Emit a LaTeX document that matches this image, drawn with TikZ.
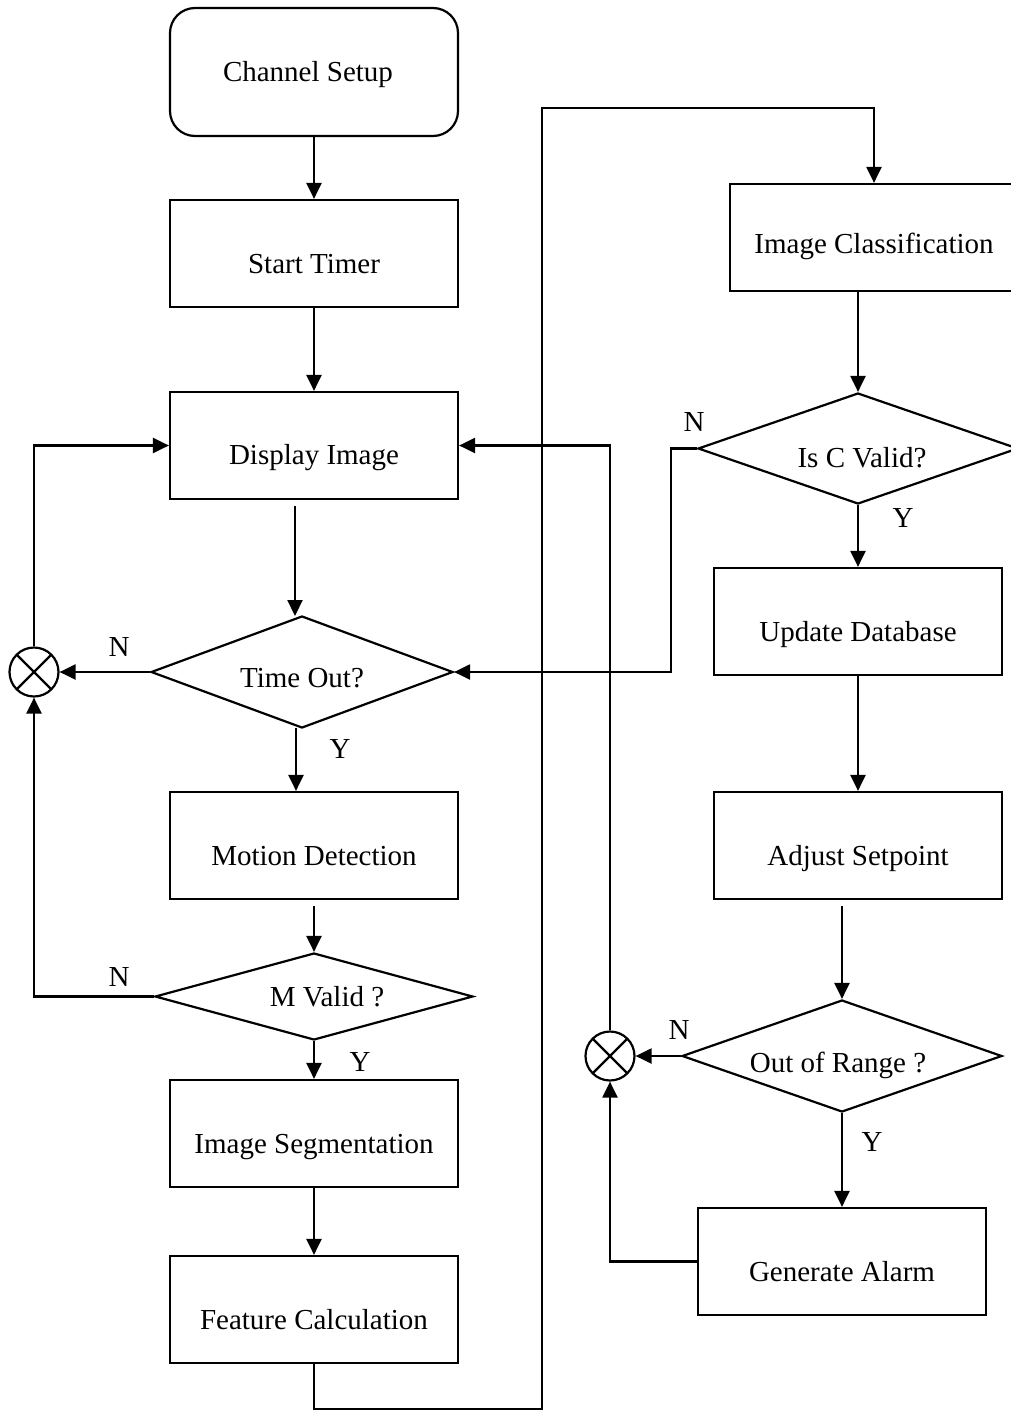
\documentclass[tikz,border=0pt]{standalone}
\usepackage{fontspec}
\setmainfont{Liberation Serif}
\usetikzlibrary{shapes.geometric,arrows.meta}
\begin{document}
\begin{tikzpicture}[x=1pt,y=-1pt,
  every node/.style={font=\fontsize{29}{34}\selectfont},
  lbl/.style={inner sep=0pt, text height=19.2pt, text depth=0pt},
  stepbox/.style={draw, line width=2.2pt, minimum width=288pt, minimum height=107pt, inner sep=0pt},
  startbox/.style={stepbox, minimum height=128pt, rounded corners=25pt},
  dia/.style={draw, diamond, line width=2.2pt, inner sep=0pt, aspect=1},
  joint/.style={draw, circle, line width=2.2pt, minimum size=49pt, inner sep=0pt,
    path picture={\draw[line width=2.2pt] (path picture bounding box.north west) -- (path picture bounding box.south east)
      (path picture bounding box.north east) -- (path picture bounding box.south west);}},
  conn/.style={line width=2.2pt},
  arr/.style={conn, -{Triangle[length=16pt,width=15pt]}}
]
\useasboundingbox (0,0) rectangle (1010,1411);

% left column
\node[startbox, label={[lbl,xshift=-6pt]center:Channel Setup}] (cs) at (314,72) {};
\node[stepbox, label={[lbl,yshift=-10pt]center:Start Timer}] (st) at (314,253.5) {};
\node[stepbox, label={[lbl,yshift=-9pt]center:Display Image}] (disp) at (314,445.5) {};
\node[dia, minimum width=302pt, minimum height=112pt, label={[lbl,yshift=-6pt]center:Time Out?}] (tout) at (302,672) {};
\node[stepbox, label={[lbl,yshift=-10pt]center:Motion Detection}] (md) at (314,845.5) {};
\node[dia, minimum width=318pt, minimum height=87pt, label={[lbl,xshift=13pt]center:M Valid ?}] (mv) at (314,996.5) {};
\node[stepbox, label={[lbl,yshift=-10pt]center:Image Segmentation}] (seg) at (314,1133.5) {};
\node[stepbox, label={[lbl,yshift=-10pt]center:Feature Calculation}] (feat) at (314,1309.5) {};
\node[joint] (c1) at (34,672) {};

% right column
\node[stepbox, label={[lbl,yshift=-6pt]center:Image Classification}] (ic) at (874,237.5) {};
\node[dia, minimum width=320pt, minimum height=111pt, label={[lbl,xshift=4pt,yshift=-9pt]center:Is C Valid?}] (icv) at (858,448.5) {};
\node[stepbox, label={[lbl,yshift=-10pt]center:Update Database}] (ud) at (858,621.5) {};
\node[stepbox, label={[lbl,yshift=-10pt]center:Adjust Setpoint}] (as) at (858,845.5) {};
\node[dia, minimum width=320pt, minimum height=112pt, label={[lbl,xshift=-4pt,yshift=-7pt]center:Out of Range ?}] (oor) at (842,1056) {};
\node[stepbox, label={[lbl,yshift=-10pt]center:Generate Alarm}] (ga) at (842,1261.5) {};
\node[joint] (c2) at (610,1056) {};

% Y / N labels
\node[lbl] (n1) at (119,646.5) {N};
\node[lbl] (y1) at (340,749) {Y};
\node[lbl] (n2) at (119,977) {N};
\node[lbl] (y2) at (360,1062) {Y};
\node[lbl] (n3) at (694,422) {N};
\node[lbl] (y3) at (903,518) {Y};
\node[lbl] (n4) at (679,1030) {N};
\node[lbl] (y4) at (872,1142) {Y};

\coordinate (fbot) at (314,1409);
\coordinate (fcor) at (542,1409);
\coordinate (ftop) at (542,108);
\coordinate (itop) at (874,108);
\coordinate (tin) at (295,616);
\coordinate (tout2) at (296,728);

% connectors left
\draw[arr] (cs.south) -- (st.north);
\draw[arr] (st.south) -- (disp.north);
\draw[arr] ([yshift=-6pt]disp.south -| tin) -- (tin);
\draw[arr] (tout2) -- (tout2 |- md.north);
\draw[arr] ([yshift=-6pt]md.south) -- (mv.north);
\draw[arr] (mv.south) -- (seg.north);
\draw[arr] (seg.south) -- (feat.north);
\draw[arr] (tout.west) -- (c1.east);
\draw[arr] (c1.north) |- (disp.west);
\draw[arr] (mv.west) -| (c1.south);
\draw[arr] (feat.south) -- (fbot) -- (fcor) -- (ftop) -- (itop) -- (ic.north);

% connectors right
\draw[arr] (icv.north |- ic.south) -- (icv.north);
\draw[arr] (icv.west) -- ++(-26,0) |- (tout.east);
\draw[arr] (icv.south) -- (ud.north);
\draw[arr] (ud.south) -- (as.north);
\draw[arr] ([yshift=-6pt]as.south -| oor.north) -- (oor.north);
\draw[arr] (oor.south) -- (ga.north);
\draw[arr] (oor.west) -- (c2.east);
\draw[arr] (c2.north) |- (disp.east);
\draw[arr] (ga.west) -| (c2.south);
\end{tikzpicture}
\end{document}
